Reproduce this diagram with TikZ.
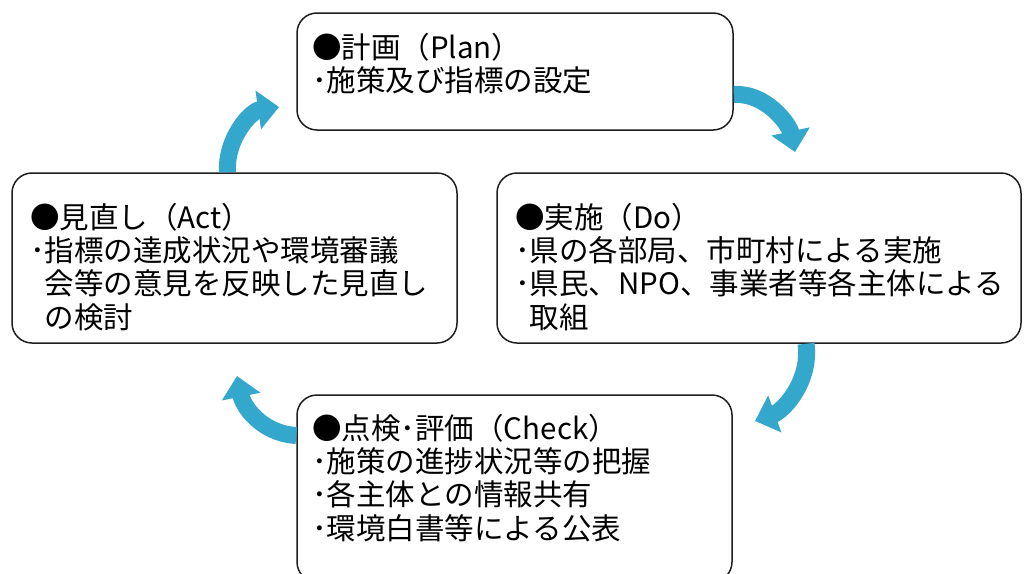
\documentclass[tikz,border=0pt]{standalone}
\usepackage{fontspec}
\setmainfont{Noto Sans CJK JP}
\usetikzlibrary{arrows.meta}
\definecolor{cyc}{RGB}{52,168,204}
\definecolor{boxline}{RGB}{30,30,30}
\tikzset{
  pdcabox/.style={draw=boxline, line width=1.5pt, rounded corners=20pt, fill=white, inner sep=0pt},
  pdcatext/.style={anchor=base west, inner sep=0pt, align=left, font=\fontsize{29.5}{33.4}\selectfont, text=black},
  cycarrow/.style={draw=cyc, line width=17pt, -{Triangle[length=21pt,width=38pt]}}
}
\begin{document}
\begin{tikzpicture}[x=1pt,y=-1pt]
\useasboundingbox (0,0) rectangle (1024,573);
% boxes
\node[pdcabox, minimum width=436pt, minimum height=117pt] (plan) at (515,71.5) {};
\node[pdcabox, minimum width=445pt, minimum height=170pt] (act) at (234.5,258) {};
\node[pdcabox, minimum width=524pt, minimum height=170pt] (do) at (759,258) {};
\node[pdcabox, minimum width=435pt, minimum height=187pt] (check) at (514.5,488.5) {};
% texts (anchored at the baseline of the last line)
\node[pdcatext] (plant) at (312,91.4) {●計画（Plan）\\･施策及び指標の設定};
\node[pdcatext] (actt) at (30,328.2) {●見直し（Act）\\･指標の達成状況や環境審議\\\hspace*{0.5em}会等の意見を反映した見直し\\\hspace*{0.5em}の検討};
\node[pdcatext] (dot) at (515,328.2) {●実施（Do）\\･県の各部局、市町村による実施\\･県民、NPO、事業者等各主体による\\\hspace*{0.5em}取組};
\node[pdcatext] (checkt) at (312,539.2) {●点検･評価（Check）\\･施策の進捗状況等の把握\\･各主体との情報共有\\･環境白書等による公表};
% arrow tips
\coordinate (tip1) at (795,152);
\coordinate (tip2) at (755,421);
\coordinate (tip3) at (237,376);
\coordinate (tip4) at (279,107);
% cycle arrows
\draw[cycarrow] ([yshift=-23pt]plan.east) .. controls +(32,-2) and +(-6,-28) .. (tip1);
\draw[cycarrow] ([xshift=47pt]do.south) .. controls +(5,38) and +(28,-10) .. (tip2);
\draw[cycarrow] ([yshift=53pt]check.west) .. controls +(-35,-2) and +(6,30) .. (tip3);
\draw[cycarrow] ([xshift=-7pt]act.north) .. controls +(-2,-34) and +(-28,4) .. (tip4);
\end{tikzpicture}
\end{document}
